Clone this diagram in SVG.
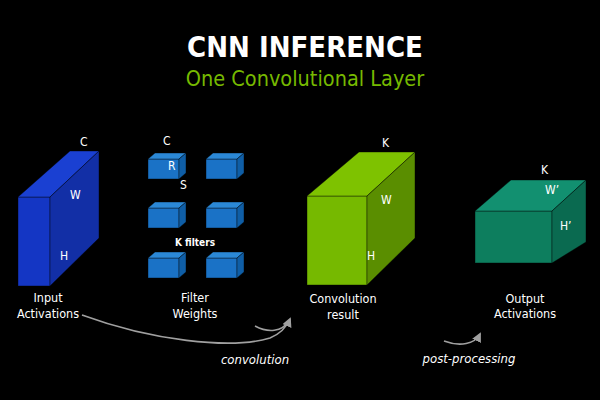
<svg xmlns="http://www.w3.org/2000/svg" width="600" height="400" viewBox="0 0 600 400">
<defs>
<style>
text{font-family:"DejaVu Sans Condensed","DejaVu Sans",sans-serif;fill:#fff}
.t{font-size:29px;font-weight:bold;text-anchor:middle}
.st{font-size:21.5px;fill:#76b900;text-anchor:middle}
.lb{font-size:12.5px;text-anchor:middle}
.dl{font-size:12px}
.it{font-size:13px;font-style:italic;text-anchor:middle}
.edge{fill:none;stroke:#a0a0a0;stroke-width:1.6}
.bf{fill:#1436c4}.bt{fill:#1a40d2}.br{fill:#122fa6}
.ff{fill:#1a72c6}.ft{fill:#2b88d6}.fr{fill:#0f5ea6}
.gf{fill:#76b900}.gt{fill:#7ec200}.gr{fill:#5a8e00}
.of{fill:#0d7e5e}.ot{fill:#129070}.or{fill:#0a6a50}
.ln{stroke:#000;stroke-width:0.8;stroke-opacity:0.5}
</style>
<marker id="ah" viewBox="0 0 10 10" refX="8" refY="5" markerWidth="6" markerHeight="6" orient="auto"><path d="M0,0L10,5L0,10z" fill="#a0a0a0"/></marker>
<g id="cube">
<rect class="ff ln" x="0" y="0" width="31" height="20"/>
<polygon class="ft ln" points="0,0 7,-6 38,-6 31,0"/>
<polygon class="fr ln" points="31,0 38,-6 38,14 31,20"/>
</g>
</defs>
<rect width="600" height="400" fill="#000"/>
<text class="t" x="305" y="57">CNN INFERENCE</text>
<text class="st" x="305" y="86">One Convolutional Layer</text>

<g id="input">
<rect class="bf ln" x="18" y="197" width="32" height="89"/>
<polygon class="bt ln" points="18,197 70,151 99,151 50,197"/>
<polygon class="br ln" points="50,197 99,151 99,238 50,286"/>
<text class="dl" x="80" y="146">C</text>
<text class="dl" x="70" y="199">W</text>
<text class="dl" x="60" y="260">H</text>
<text class="lb" x="48" y="302">Input</text>
<text class="lb" x="48" y="318">Activations</text>
</g>

<g id="filters">
<use href="#cube" x="148" y="159"/>
<use href="#cube" x="206" y="159"/>
<use href="#cube" x="148" y="208"/>
<use href="#cube" x="206" y="208"/>
<use href="#cube" x="148" y="258"/>
<use href="#cube" x="206" y="258"/>
<text class="dl" x="163" y="145">C</text>
<text class="dl" x="168" y="170">R</text>
<text class="dl" x="180" y="189">S</text>
<text class="lb" x="195" y="246" style="font-size:10px;font-weight:bold">K filters</text>
<text class="lb" x="195" y="302">Filter</text>
<text class="lb" x="195" y="318">Weights</text>
</g>

<g id="conv">
<rect class="gf ln" x="307" y="196" width="60" height="89"/>
<polygon class="gt ln" points="307,196 359,152 415,152 367,196"/>
<polygon class="gr ln" points="367,196 415,152 415,238 367,285"/>
<text class="dl" x="382" y="147">K</text>
<text class="dl" x="381" y="204">W</text>
<text class="dl" x="367" y="260">H</text>
<text class="lb" x="343" y="303">Convolution</text>
<text class="lb" x="343" y="319">result</text>
</g>

<g id="output">
<rect class="of ln" x="475" y="211" width="77" height="52"/>
<polygon class="ot ln" points="475,211 511,180 586,180 552,211"/>
<polygon class="or ln" points="552,211 586,180 586,242 552,263"/>
<text class="dl" x="541" y="174">K</text>
<text class="dl" x="545" y="194">W’</text>
<text class="dl" x="560" y="230">H’</text>
<text class="lb" x="525" y="303">Output</text>
<text class="lb" x="525" y="318">Activations</text>
</g>

<g id="connectors">
<path class="edge" d="M82,315 C150,340 230,350 270,338 C282,333 287,326 290,319" marker-end="url(#ah)"/>
<path class="edge" d="M255,326 C268,333 282,332 289,321"/>
<path class="edge" d="M444,341 C460,347 475,344 480,334" marker-end="url(#ah)"/>
<text class="it" x="255" y="364">convolution</text>
<text class="it" x="469" y="363">post-processing</text>
</g>
</svg>
